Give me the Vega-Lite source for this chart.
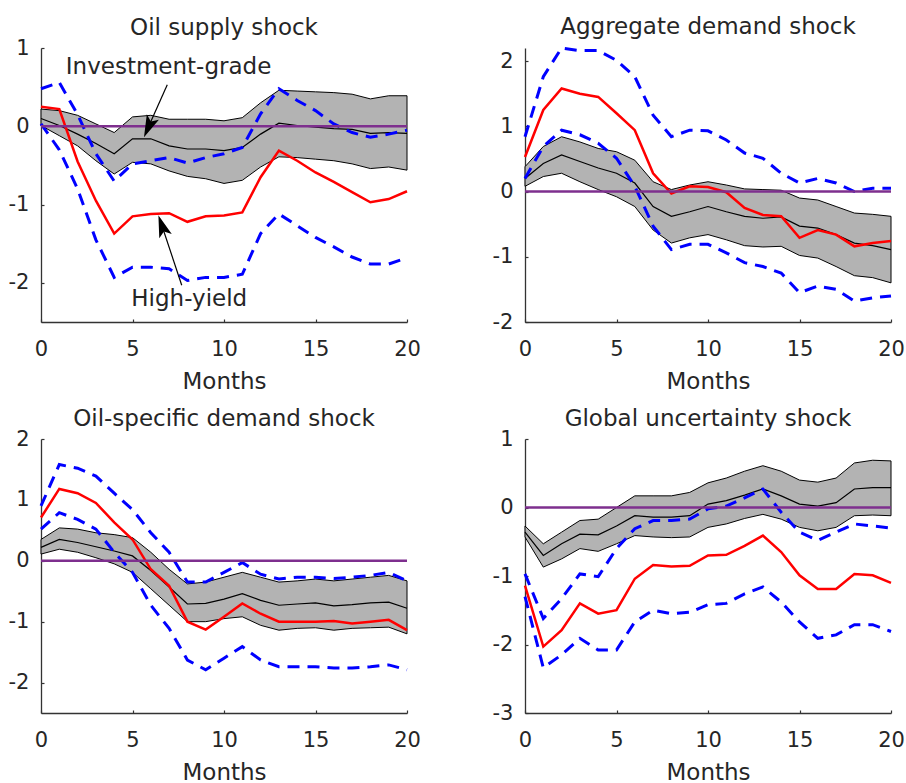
{
"$schema": "https://vega.github.io/schema/vega-lite/v6.json",
"background": "white",
"padding": {"left": 8, "top": 16, "right": 0, "bottom": 0},
"config": {
  "font": "DejaVu Sans",
  "view": {"stroke": null},
  "axis": {"grid": false, "domainColor": "#333333", "domainWidth": 1.3, "tickColor": "#333333", "tickWidth": 1.2, "tickSize": -3, "labelColor": "#262626", "labelFontSize": 21, "labelFont": "DejaVu Sans", "titleColor": "#262626", "titleFontSize": 23, "titleFontWeight": "normal", "titleFont": "DejaVu Sans", "labelFlush": false},
  "title": {"font": "DejaVu Sans", "fontSize": 23, "fontWeight": "normal", "color": "#262626", "frame": "group", "offset": -3},
  "text": {"font": "DejaVu Sans"}
},
"datasets": {
  "irf": [
{"p":"oil","m":0,"igl":0.01,"igm":0.10,"igu":0.22,"hyl":0.03,"hym":0.25,"hyu":0.48},
{"p":"oil","m":1,"igl":-0.12,"igm":0.01,"igu":0.20,"hyl":-0.30,"hym":0.22,"hyu":0.56},
{"p":"oil","m":2,"igl":-0.25,"igm":-0.10,"igu":0.14,"hyl":-0.80,"hym":-0.45,"hyu":0.15},
{"p":"oil","m":3,"igl":-0.44,"igm":-0.22,"igu":0.03,"hyl":-1.45,"hym":-0.95,"hyu":-0.35},
{"p":"oil","m":4,"igl":-0.61,"igm":-0.35,"igu":-0.08,"hyl":-1.93,"hym":-1.37,"hyu":-0.70},
{"p":"oil","m":5,"igl":-0.46,"igm":-0.16,"igu":0.12,"hyl":-1.80,"hym":-1.15,"hyu":-0.48},
{"p":"oil","m":6,"igl":-0.48,"igm":-0.16,"igu":0.14,"hyl":-1.80,"hym":-1.12,"hyu":-0.44},
{"p":"oil","m":7,"igl":-0.57,"igm":-0.25,"igu":0.09,"hyl":-1.82,"hym":-1.11,"hyu":-0.40},
{"p":"oil","m":8,"igl":-0.64,"igm":-0.29,"igu":0.09,"hyl":-1.97,"hym":-1.22,"hyu":-0.47},
{"p":"oil","m":9,"igl":-0.67,"igm":-0.29,"igu":0.09,"hyl":-1.93,"hym":-1.15,"hyu":-0.40},
{"p":"oil","m":10,"igl":-0.73,"igm":-0.31,"igu":0.07,"hyl":-1.93,"hym":-1.14,"hyu":-0.35},
{"p":"oil","m":11,"igl":-0.69,"igm":-0.27,"igu":0.11,"hyl":-1.89,"hym":-1.10,"hyu":-0.27},
{"p":"oil","m":12,"igl":-0.52,"igm":-0.10,"igu":0.30,"hyl":-1.37,"hym":-0.65,"hyu":0.16},
{"p":"oil","m":13,"igl":-0.39,"igm":0.04,"igu":0.46,"hyl":-1.12,"hym":-0.31,"hyu":0.48},
{"p":"oil","m":14,"igl":-0.40,"igm":0.01,"igu":0.45,"hyl":-1.27,"hym":-0.44,"hyu":0.33},
{"p":"oil","m":15,"igl":-0.42,"igm":-0.01,"igu":0.44,"hyl":-1.42,"hym":-0.59,"hyu":0.20},
{"p":"oil","m":16,"igl":-0.44,"igm":-0.03,"igu":0.43,"hyl":-1.54,"hym":-0.71,"hyu":0.03},
{"p":"oil","m":17,"igl":-0.48,"igm":-0.04,"igu":0.41,"hyl":-1.67,"hym":-0.84,"hyu":-0.08},
{"p":"oil","m":18,"igl":-0.54,"igm":-0.09,"igu":0.35,"hyl":-1.76,"hym":-0.97,"hyu":-0.14},
{"p":"oil","m":19,"igl":-0.52,"igm":-0.08,"igu":0.39,"hyl":-1.76,"hym":-0.93,"hyu":-0.10},
{"p":"oil","m":20,"igl":-0.56,"igm":-0.09,"igu":0.39,"hyl":-1.68,"hym":-0.83,"hyu":-0.05},
{"p":"agg","m":0,"igl":0.08,"igm":0.20,"igu":0.38,"hyl":0.20,"hym":0.53,"hyu":0.84},
{"p":"agg","m":1,"igl":0.23,"igm":0.43,"igu":0.69,"hyl":0.69,"hym":1.25,"hyu":1.76},
{"p":"agg","m":2,"igl":0.28,"igm":0.56,"igu":0.84,"hyl":0.94,"hym":1.58,"hyu":2.20},
{"p":"agg","m":3,"igl":0.15,"igm":0.46,"igu":0.76,"hyl":0.87,"hym":1.50,"hyu":2.16},
{"p":"agg","m":4,"igl":0.03,"igm":0.36,"igu":0.66,"hyl":0.74,"hym":1.45,"hyu":2.16},
{"p":"agg","m":5,"igl":-0.08,"igm":0.28,"igu":0.61,"hyl":0.51,"hym":1.20,"hyu":2.01},
{"p":"agg","m":6,"igl":-0.23,"igm":0.13,"igu":0.48,"hyl":0.08,"hym":0.94,"hyu":1.76},
{"p":"agg","m":7,"igl":-0.59,"igm":-0.23,"igu":0.15,"hyl":-0.53,"hym":0.28,"hyu":1.17},
{"p":"agg","m":8,"igl":-0.79,"igm":-0.38,"igu":0.03,"hyl":-0.89,"hym":-0.03,"hyu":0.84},
{"p":"agg","m":9,"igl":-0.71,"igm":-0.31,"igu":0.10,"hyl":-0.81,"hym":0.08,"hyu":0.94},
{"p":"agg","m":10,"igl":-0.66,"igm":-0.23,"igu":0.15,"hyl":-0.81,"hym":0.07,"hyu":0.93},
{"p":"agg","m":11,"igl":-0.74,"igm":-0.31,"igu":0.10,"hyl":-0.94,"hym":-0.01,"hyu":0.79},
{"p":"agg","m":12,"igl":-0.83,"igm":-0.38,"igu":0.04,"hyl":-1.09,"hym":-0.25,"hyu":0.59},
{"p":"agg","m":13,"igl":-0.85,"igm":-0.41,"igu":0.03,"hyl":-1.15,"hym":-0.36,"hyu":0.51},
{"p":"agg","m":14,"igl":-0.84,"igm":-0.39,"igu":0.02,"hyl":-1.25,"hym":-0.38,"hyu":0.28},
{"p":"agg","m":15,"igl":-0.98,"igm":-0.53,"igu":-0.10,"hyl":-1.55,"hym":-0.71,"hyu":0.13},
{"p":"agg","m":16,"igl":-1.02,"igm":-0.56,"igu":-0.13,"hyl":-1.45,"hym":-0.59,"hyu":0.20},
{"p":"agg","m":17,"igl":-1.15,"igm":-0.66,"igu":-0.23,"hyl":-1.50,"hym":-0.66,"hyu":0.13},
{"p":"agg","m":18,"igl":-1.29,"igm":-0.79,"igu":-0.33,"hyl":-1.68,"hym":-0.84,"hyu":0.00},
{"p":"agg","m":19,"igl":-1.32,"igm":-0.83,"igu":-0.35,"hyl":-1.63,"hym":-0.79,"hyu":0.05},
{"p":"agg","m":20,"igl":-1.40,"igm":-0.89,"igu":-0.38,"hyl":-1.60,"hym":-0.76,"hyu":0.05},
{"p":"osd","m":0,"igl":0.11,"igm":0.22,"igu":0.35,"hyl":0.52,"hym":0.71,"hyu":0.90},
{"p":"osd","m":1,"igl":0.19,"igm":0.35,"igu":0.54,"hyl":0.79,"hym":1.18,"hyu":1.58},
{"p":"osd","m":2,"igl":0.14,"igm":0.30,"igu":0.52,"hyl":0.68,"hym":1.11,"hyu":1.52},
{"p":"osd","m":3,"igl":0.05,"igm":0.23,"igu":0.46,"hyl":0.52,"hym":0.95,"hyu":1.39},
{"p":"osd","m":4,"igl":-0.05,"igm":0.16,"igu":0.43,"hyl":0.14,"hym":0.63,"hyu":1.11},
{"p":"osd","m":5,"igl":-0.19,"igm":0.08,"igu":0.38,"hyl":-0.19,"hym":0.35,"hyu":0.84},
{"p":"osd","m":6,"igl":-0.46,"igm":-0.16,"igu":0.14,"hyl":-0.73,"hym":-0.14,"hyu":0.46},
{"p":"osd","m":7,"igl":-0.73,"igm":-0.43,"igu":-0.14,"hyl":-1.11,"hym":-0.41,"hyu":0.14},
{"p":"osd","m":8,"igl":-1.00,"igm":-0.71,"igu":-0.38,"hyl":-1.63,"hym":-1.00,"hyu":-0.35},
{"p":"osd","m":9,"igl":-1.00,"igm":-0.70,"igu":-0.35,"hyl":-1.79,"hym":-1.13,"hyu":-0.35},
{"p":"osd","m":10,"igl":-0.95,"igm":-0.63,"igu":-0.27,"hyl":-1.60,"hym":-0.92,"hyu":-0.19},
{"p":"osd","m":11,"igl":-0.92,"igm":-0.54,"igu":-0.19,"hyl":-1.41,"hym":-0.70,"hyu":-0.03},
{"p":"osd","m":12,"igl":-1.06,"igm":-0.65,"igu":-0.27,"hyl":-1.63,"hym":-0.87,"hyu":-0.22},
{"p":"osd","m":13,"igl":-1.14,"igm":-0.73,"igu":-0.35,"hyl":-1.74,"hym":-1.00,"hyu":-0.30},
{"p":"osd","m":14,"igl":-1.11,"igm":-0.71,"igu":-0.33,"hyl":-1.74,"hym":-1.00,"hyu":-0.27},
{"p":"osd","m":15,"igl":-1.10,"igm":-0.69,"igu":-0.30,"hyl":-1.74,"hym":-1.00,"hyu":-0.27},
{"p":"osd","m":16,"igl":-1.14,"igm":-0.74,"igu":-0.33,"hyl":-1.76,"hym":-0.99,"hyu":-0.29},
{"p":"osd","m":17,"igl":-1.11,"igm":-0.72,"igu":-0.30,"hyl":-1.76,"hym":-1.03,"hyu":-0.27},
{"p":"osd","m":18,"igl":-1.10,"igm":-0.69,"igu":-0.27,"hyl":-1.74,"hym":-1.00,"hyu":-0.24},
{"p":"osd","m":19,"igl":-1.09,"igm":-0.68,"igu":-0.24,"hyl":-1.71,"hym":-0.97,"hyu":-0.19},
{"p":"osd","m":20,"igl":-1.20,"igm":-0.78,"igu":-0.33,"hyl":-1.79,"hym":-1.14,"hyu":-0.33},
{"p":"gu","m":0,"igl":-0.43,"igm":-0.36,"igu":-0.27,"hyl":-1.30,"hym":-1.14,"hyu":-0.97},
{"p":"gu","m":1,"igl":-0.87,"igm":-0.70,"igu":-0.53,"hyl":-2.34,"hym":-2.03,"hyu":-1.62},
{"p":"gu","m":2,"igl":-0.75,"igm":-0.53,"igu":-0.36,"hyl":-2.15,"hym":-1.79,"hyu":-1.33},
{"p":"gu","m":3,"igl":-0.60,"igm":-0.39,"igu":-0.19,"hyl":-1.91,"hym":-1.40,"hyu":-0.97},
{"p":"gu","m":4,"igl":-0.64,"igm":-0.40,"igu":-0.17,"hyl":-2.08,"hym":-1.55,"hyu":-1.01},
{"p":"gu","m":5,"igl":-0.53,"igm":-0.27,"igu":0.00,"hyl":-2.08,"hym":-1.50,"hyu":-0.60},
{"p":"gu","m":6,"igl":-0.41,"igm":-0.12,"igu":0.17,"hyl":-1.67,"hym":-1.04,"hyu":-0.31},
{"p":"gu","m":7,"igl":-0.43,"igm":-0.14,"igu":0.17,"hyl":-1.50,"hym":-0.84,"hyu":-0.19},
{"p":"gu","m":8,"igl":-0.44,"igm":-0.14,"igu":0.17,"hyl":-1.55,"hym":-0.86,"hyu":-0.19},
{"p":"gu","m":9,"igl":-0.43,"igm":-0.12,"igu":0.22,"hyl":-1.53,"hym":-0.85,"hyu":-0.17},
{"p":"gu","m":10,"igl":-0.29,"igm":0.05,"igu":0.36,"hyl":-1.42,"hym":-0.70,"hyu":-0.02},
{"p":"gu","m":11,"igl":-0.24,"igm":0.10,"igu":0.43,"hyl":-1.40,"hym":-0.69,"hyu":0.02},
{"p":"gu","m":12,"igl":-0.16,"igm":0.18,"igu":0.53,"hyl":-1.26,"hym":-0.56,"hyu":0.14},
{"p":"gu","m":13,"igl":-0.10,"igm":0.27,"igu":0.61,"hyl":-1.16,"hym":-0.41,"hyu":0.27},
{"p":"gu","m":14,"igl":-0.17,"igm":0.17,"igu":0.53,"hyl":-1.38,"hym":-0.65,"hyu":-0.07},
{"p":"gu","m":15,"igl":-0.29,"igm":0.05,"igu":0.40,"hyl":-1.67,"hym":-0.99,"hyu":-0.36},
{"p":"gu","m":16,"igl":-0.34,"igm":0.02,"igu":0.37,"hyl":-1.91,"hym":-1.19,"hyu":-0.48},
{"p":"gu","m":17,"igl":-0.29,"igm":0.07,"igu":0.43,"hyl":-1.86,"hym":-1.19,"hyu":-0.36},
{"p":"gu","m":18,"igl":-0.12,"igm":0.27,"igu":0.65,"hyl":-1.71,"hym":-0.97,"hyu":-0.24},
{"p":"gu","m":19,"igl":-0.11,"igm":0.29,"igu":0.69,"hyl":-1.71,"hym":-0.99,"hyu":-0.27},
{"p":"gu","m":20,"igl":-0.12,"igm":0.29,"igu":0.68,"hyl":-1.81,"hym":-1.10,"hyu":-0.30}
  ],
  "notes": [
    {"label": "Investment-grade", "tm": 6.97, "tv": 0.76, "sm": 6.9, "sv": 0.53, "hm": 5.87, "hv": -0.01, "ang": 203.8},
    {"label": "High-yield", "tm": 8.1, "tv": -2.2, "sm": 7.69, "sv": -2.03, "hm": 6.61, "hv": -1.27, "ang": 341.1}
  ],
  "zero": [{"m": 0, "m2": 20, "z": 0}]
},
"columns": 2,
"spacing": {"row": 15, "column": 71},
"concat": [
{
  "width": 366, "height": 274,
  "title": {"text": "Oil supply shock"},
  "encoding": {"x": {"field": "m", "type": "quantitative", "scale": {"domain": [0, 20], "nice": false}, "axis": {"values": [0, 5, 10, 15, 20], "title": "Months", "labelPadding": 19, "titlePadding": 11}}},
  "layer": [
    {"data": {"name": "irf"}, "transform": [{"filter": "datum.p == 'oil'"}], "mark": {"type": "area", "color": "#b3b3b3", "opacity": 1, "stroke": "#000000", "strokeWidth": 1},
     "encoding": {"y": {"field": "igl", "type": "quantitative", "title": null, "scale": {"domain": [-2.5, 1], "nice": false, "zero": false}, "axis": {"values": [-2, -1, 0, 1], "labelExpr": "'' + datum.value", "labelPadding": 15}}, "y2": {"field": "igu"}}},
    {"data": {"name": "irf"}, "transform": [{"filter": "datum.p == 'oil'"}], "mark": {"type": "line", "color": "#000000", "strokeWidth": 1.2},
     "encoding": {"y": {"field": "igm", "type": "quantitative", "title": null, "scale": {"domain": [-2.5, 1], "nice": false, "zero": false}}}},
    {"data": {"name": "irf"}, "transform": [{"filter": "datum.p == 'oil'"}], "mark": {"type": "line", "color": "#ff0000", "strokeWidth": 2.5},
     "encoding": {"y": {"field": "hym", "type": "quantitative", "title": null, "scale": {"domain": [-2.5, 1], "nice": false, "zero": false}}}},
    {"data": {"name": "irf"}, "transform": [{"filter": "datum.p == 'oil'"}], "mark": {"type": "line", "color": "#0000ff", "strokeWidth": 3, "strokeDash": [12, 8]},
     "encoding": {"y": {"field": "hyl", "type": "quantitative", "title": null, "scale": {"domain": [-2.5, 1], "nice": false, "zero": false}}}},
    {"data": {"name": "irf"}, "transform": [{"filter": "datum.p == 'oil'"}], "mark": {"type": "line", "color": "#0000ff", "strokeWidth": 3, "strokeDash": [12, 8]},
     "encoding": {"y": {"field": "hyu", "type": "quantitative", "title": null, "scale": {"domain": [-2.5, 1], "nice": false, "zero": false}}}},
    {"data": {"name": "zero"}, "mark": {"type": "rule", "color": "#7e2f8e", "strokeWidth": 2.5},
     "encoding": {"x2": {"field": "m2"}, "y": {"field": "z", "type": "quantitative", "title": null, "scale": {"domain": [-2.5, 1], "nice": false, "zero": false}}}},
    {"data": {"name": "notes"}, "mark": {"type": "rule", "color": "#000000", "strokeWidth": 1.2},
     "encoding": {"x": {"field": "sm", "type": "quantitative"}, "x2": {"field": "hm"}, "y": {"field": "sv", "type": "quantitative", "title": null, "scale": {"domain": [-2.5, 1], "nice": false, "zero": false}}, "y2": {"field": "hv"}}},
    {"data": {"name": "notes"}, "mark": {"type": "point", "shape": "M0,-1L-0.6,1L0,0.55L0.6,1Z", "filled": true, "color": "#000000", "opacity": 1, "size": 484},
     "encoding": {"x": {"field": "hm", "type": "quantitative"}, "y": {"field": "hv", "type": "quantitative", "title": null, "scale": {"domain": [-2.5, 1], "nice": false, "zero": false}}, "angle": {"field": "ang", "type": "quantitative", "scale": null}}},
    {"data": {"name": "notes"}, "mark": {"type": "text", "fontSize": 23, "color": "#262626", "align": "center", "baseline": "middle"},
     "encoding": {"x": {"field": "tm", "type": "quantitative"}, "y": {"field": "tv", "type": "quantitative", "title": null, "scale": {"domain": [-2.5, 1], "nice": false, "zero": false}}, "text": {"field": "label"}}}
  ]
},
{
  "width": 366, "height": 274,
  "title": {"text": "Aggregate demand shock", "offset": 3},
  "encoding": {"x": {"field": "m", "type": "quantitative", "scale": {"domain": [0, 20], "nice": false}, "axis": {"values": [0, 5, 10, 15, 20], "title": "Months", "labelPadding": 19, "titlePadding": 11}}},
  "layer": [
    {"data": {"name": "irf"}, "transform": [{"filter": "datum.p == 'agg'"}], "mark": {"type": "area", "color": "#b3b3b3", "opacity": 1, "stroke": "#000000", "strokeWidth": 1},
     "encoding": {"y": {"field": "igl", "type": "quantitative", "title": null, "scale": {"domain": [-2, 2.2], "nice": false, "zero": false}, "axis": {"values": [-2, -1, 0, 1, 2], "labelExpr": "'' + datum.value", "labelPadding": 15}}, "y2": {"field": "igu"}}},
    {"data": {"name": "irf"}, "transform": [{"filter": "datum.p == 'agg'"}], "mark": {"type": "line", "color": "#000000", "strokeWidth": 1.2},
     "encoding": {"y": {"field": "igm", "type": "quantitative", "title": null, "scale": {"domain": [-2, 2.2], "nice": false, "zero": false}}}},
    {"data": {"name": "irf"}, "transform": [{"filter": "datum.p == 'agg'"}], "mark": {"type": "line", "color": "#ff0000", "strokeWidth": 2.5},
     "encoding": {"y": {"field": "hym", "type": "quantitative", "title": null, "scale": {"domain": [-2, 2.2], "nice": false, "zero": false}}}},
    {"data": {"name": "irf"}, "transform": [{"filter": "datum.p == 'agg'"}], "mark": {"type": "line", "color": "#0000ff", "strokeWidth": 3, "strokeDash": [12, 8]},
     "encoding": {"y": {"field": "hyl", "type": "quantitative", "title": null, "scale": {"domain": [-2, 2.2], "nice": false, "zero": false}}}},
    {"data": {"name": "irf"}, "transform": [{"filter": "datum.p == 'agg'"}], "mark": {"type": "line", "color": "#0000ff", "strokeWidth": 3, "strokeDash": [12, 8]},
     "encoding": {"y": {"field": "hyu", "type": "quantitative", "title": null, "scale": {"domain": [-2, 2.2], "nice": false, "zero": false}}}},
    {"data": {"name": "zero"}, "mark": {"type": "rule", "color": "#7e2f8e", "strokeWidth": 2.5},
     "encoding": {"x2": {"field": "m2"}, "y": {"field": "z", "type": "quantitative", "title": null, "scale": {"domain": [-2, 2.2], "nice": false, "zero": false}}}}
  ]
},
{
  "width": 366, "height": 274,
  "title": {"text": "Oil-specific demand shock"},
  "encoding": {"x": {"field": "m", "type": "quantitative", "scale": {"domain": [0, 20], "nice": false}, "axis": {"values": [0, 5, 10, 15, 20], "title": "Months", "labelPadding": 19, "titlePadding": 11}}},
  "layer": [
    {"data": {"name": "irf"}, "transform": [{"filter": "datum.p == 'osd'"}], "mark": {"type": "area", "color": "#b3b3b3", "opacity": 1, "stroke": "#000000", "strokeWidth": 1},
     "encoding": {"y": {"field": "igl", "type": "quantitative", "title": null, "scale": {"domain": [-2.5, 2], "nice": false, "zero": false}, "axis": {"values": [-2, -1, 0, 1, 2], "labelExpr": "'' + datum.value", "labelPadding": 15}}, "y2": {"field": "igu"}}},
    {"data": {"name": "irf"}, "transform": [{"filter": "datum.p == 'osd'"}], "mark": {"type": "line", "color": "#000000", "strokeWidth": 1.2},
     "encoding": {"y": {"field": "igm", "type": "quantitative", "title": null, "scale": {"domain": [-2.5, 2], "nice": false, "zero": false}}}},
    {"data": {"name": "irf"}, "transform": [{"filter": "datum.p == 'osd'"}], "mark": {"type": "line", "color": "#ff0000", "strokeWidth": 2.5},
     "encoding": {"y": {"field": "hym", "type": "quantitative", "title": null, "scale": {"domain": [-2.5, 2], "nice": false, "zero": false}}}},
    {"data": {"name": "irf"}, "transform": [{"filter": "datum.p == 'osd'"}], "mark": {"type": "line", "color": "#0000ff", "strokeWidth": 3, "strokeDash": [12, 8]},
     "encoding": {"y": {"field": "hyl", "type": "quantitative", "title": null, "scale": {"domain": [-2.5, 2], "nice": false, "zero": false}}}},
    {"data": {"name": "irf"}, "transform": [{"filter": "datum.p == 'osd'"}], "mark": {"type": "line", "color": "#0000ff", "strokeWidth": 3, "strokeDash": [12, 8]},
     "encoding": {"y": {"field": "hyu", "type": "quantitative", "title": null, "scale": {"domain": [-2.5, 2], "nice": false, "zero": false}}}},
    {"data": {"name": "zero"}, "mark": {"type": "rule", "color": "#7e2f8e", "strokeWidth": 2.5},
     "encoding": {"x2": {"field": "m2"}, "y": {"field": "z", "type": "quantitative", "title": null, "scale": {"domain": [-2.5, 2], "nice": false, "zero": false}}}}
  ]
},
{
  "width": 366, "height": 274,
  "title": {"text": "Global uncertainty shock"},
  "encoding": {"x": {"field": "m", "type": "quantitative", "scale": {"domain": [0, 20], "nice": false}, "axis": {"values": [0, 5, 10, 15, 20], "title": "Months", "labelPadding": 19, "titlePadding": 11}}},
  "layer": [
    {"data": {"name": "irf"}, "transform": [{"filter": "datum.p == 'gu'"}], "mark": {"type": "area", "color": "#b3b3b3", "opacity": 1, "stroke": "#000000", "strokeWidth": 1},
     "encoding": {"y": {"field": "igl", "type": "quantitative", "title": null, "scale": {"domain": [-3, 1], "nice": false, "zero": false}, "axis": {"values": [-3, -2, -1, 0, 1], "labelExpr": "'' + datum.value", "labelPadding": 15}}, "y2": {"field": "igu"}}},
    {"data": {"name": "irf"}, "transform": [{"filter": "datum.p == 'gu'"}], "mark": {"type": "line", "color": "#000000", "strokeWidth": 1.2},
     "encoding": {"y": {"field": "igm", "type": "quantitative", "title": null, "scale": {"domain": [-3, 1], "nice": false, "zero": false}}}},
    {"data": {"name": "irf"}, "transform": [{"filter": "datum.p == 'gu'"}], "mark": {"type": "line", "color": "#ff0000", "strokeWidth": 2.5},
     "encoding": {"y": {"field": "hym", "type": "quantitative", "title": null, "scale": {"domain": [-3, 1], "nice": false, "zero": false}}}},
    {"data": {"name": "irf"}, "transform": [{"filter": "datum.p == 'gu'"}], "mark": {"type": "line", "color": "#0000ff", "strokeWidth": 3, "strokeDash": [12, 8]},
     "encoding": {"y": {"field": "hyl", "type": "quantitative", "title": null, "scale": {"domain": [-3, 1], "nice": false, "zero": false}}}},
    {"data": {"name": "irf"}, "transform": [{"filter": "datum.p == 'gu'"}], "mark": {"type": "line", "color": "#0000ff", "strokeWidth": 3, "strokeDash": [12, 8]},
     "encoding": {"y": {"field": "hyu", "type": "quantitative", "title": null, "scale": {"domain": [-3, 1], "nice": false, "zero": false}}}},
    {"data": {"name": "zero"}, "mark": {"type": "rule", "color": "#7e2f8e", "strokeWidth": 2.5},
     "encoding": {"x2": {"field": "m2"}, "y": {"field": "z", "type": "quantitative", "title": null, "scale": {"domain": [-3, 1], "nice": false, "zero": false}}}}
  ]
}
]
}
